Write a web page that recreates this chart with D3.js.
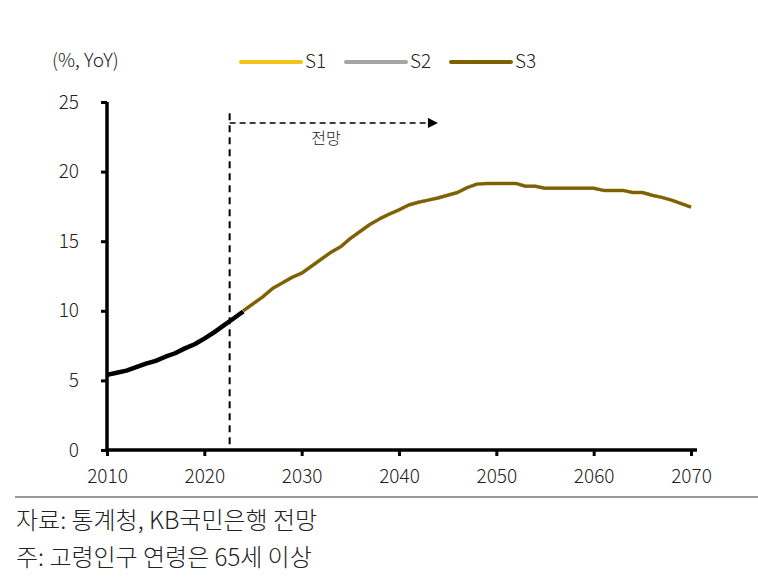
<!DOCTYPE html>
<html>
<head>
<meta charset="utf-8">
<script src="https://cdn.jsdelivr.net/npm/d3@7"></script>
<style>
  body { margin: 0; background: #fff; }
  svg text { font-family: "Noto Sans CJK KR", "Noto Sans", sans-serif; font-weight: 300; fill: #222; }
</style>
</head>
<body>
<div id="container"></div>
<script>
/* DATA */
const histYears = d3.range(2010, 2025);
const histValues = [5.4, 5.55, 5.7, 5.95, 6.2, 6.4, 6.7, 6.95, 7.3, 7.6, 8.0, 8.45, 8.95, 9.45, 9.95];

const projYears = d3.range(2024, 2071);
const s3Values = [10.0, 10.5, 11.0, 11.6, 12.0, 12.4, 12.7, 13.2, 13.7, 14.2,
  14.6, 15.2, 15.7, 16.2, 16.6, 16.95, 17.25, 17.6, 17.8, 17.95,
  18.1, 18.3, 18.5, 18.85, 19.1, 19.15, 19.15, 19.15, 19.15, 18.95,
  18.95, 18.8, 18.8, 18.8, 18.8, 18.8, 18.8, 18.65, 18.65, 18.65,
  18.5, 18.5, 18.3, 18.15, 17.95, 17.7, 17.45];
// the three scenarios sit on top of each other in the picture
const s1Values = s3Values.slice();
const s2Values = s3Values.slice();

const seriesNames = ["S1", "S2", "S3"];
const seriesColors = ["#f2c318", "#a5a5a5", "#7f6000"];

const xTicks = [2010, 2020, 2030, 2040, 2050, 2060, 2070];
const yTicks = [0, 5, 10, 15, 20, 25];

const forecastStart = 2022.6, arrowEnd = 2044, arrowLevel = 23.5, dashTop = 24.2;

/* CONSTANTS */
const width = 758, height = 578;

const svg = d3.select("#container").append("svg")
  .attr("width", width).attr("height", height);

const xScale = d3.scaleLinear().domain([2010, 2070]).range([107, 691]);
const yScale = d3.scaleLinear().domain([0, 25]).range([450, 102]);

// unit label + legend
svg.append("text").attr("x", 52).attr("y", 67)
  .attr("font-size", 19).text("(%, YoY)");

const legendX = [241, 346, 451];
seriesNames.forEach((name, i) => {
  svg.append("line")
    .attr("x1", legendX[i]).attr("x2", legendX[i] + 60)
    .attr("y1", 62).attr("y2", 62)
    .attr("stroke", seriesColors[i]).attr("stroke-width", 4)
    .attr("stroke-linecap", "round");
  svg.append("text").attr("x", legendX[i] + 64).attr("y", 68)
    .attr("font-size", 19).text(name);
});

// axes
const yAxis = d3.axisLeft(yScale).tickValues(yTicks).tickSize(6).tickPadding(22);
const xAxis = d3.axisBottom(xScale).tickValues(xTicks).tickFormat(d3.format("d")).tickSize(6).tickPadding(14);

const gy = svg.append("g").attr("transform", `translate(${xScale(2010)},0)`).call(yAxis);
const gx = svg.append("g").attr("transform", `translate(0,${yScale(0)})`).call(xAxis);

[gx, gy].forEach(g => {
  g.select(".domain").remove();
  g.selectAll(".tick line").attr("stroke", "#000").attr("stroke-width", 3);
  g.selectAll(".tick text").attr("font-size", 19).attr("fill", "#222")
    .style("font-family", '"Noto Sans CJK KR", sans-serif').style("font-weight", 300);
});

svg.append("line")
  .attr("x1", xScale(2010)).attr("x2", xScale(2010))
  .attr("y1", yScale(25)).attr("y2", yScale(0) + 1.5)
  .attr("stroke", "#000").attr("stroke-width", 3.5);
svg.append("line")
  .attr("x1", xScale(2010) - 1.5).attr("x2", xScale(2070) + 6)
  .attr("y1", yScale(0)).attr("y2", yScale(0))
  .attr("stroke", "#000").attr("stroke-width", 3.5);

// forecast marker
svg.append("line")
  .attr("x1", xScale(forecastStart)).attr("x2", xScale(forecastStart))
  .attr("y1", yScale(dashTop)).attr("y2", yScale(0))
  .attr("stroke", "#000").attr("stroke-width", 2).attr("stroke-dasharray", "7,5");

svg.append("defs").append("marker")
  .attr("id", "arrow").attr("viewBox", "0 0 10 10")
  .attr("refX", 10).attr("refY", 5)
  .attr("markerWidth", 11).attr("markerHeight", 10)
  .attr("markerUnits", "userSpaceOnUse")
  .attr("orient", "auto")
  .append("path").attr("d", "M0,0L10,5L0,10Z").attr("fill", "#000");

svg.append("line")
  .attr("x1", xScale(forecastStart)).attr("x2", xScale(arrowEnd))
  .attr("y1", yScale(arrowLevel)).attr("y2", yScale(arrowLevel))
  .attr("stroke", "#000").attr("stroke-width", 1.5).attr("stroke-dasharray", "6,4")
  .attr("marker-end", "url(#arrow)");

svg.append("text")
  .attr("x", xScale(2032.5)).attr("y", yScale(arrowLevel) + 21)
  .attr("text-anchor", "middle").attr("font-size", 16).text("전망");

// lines
const line = d3.line().x(d => xScale(d[0])).y(d => yScale(d[1]));

[s1Values, s2Values, s3Values].forEach((vals, i) => {
  svg.append("path")
    .datum(projYears.map((y, j) => [y, vals[j]]))
    .attr("fill", "none")
    .attr("stroke", seriesColors[i])
    .attr("stroke-width", i === 2 ? 3 : 3.5)
    .attr("stroke-linejoin", "round")
    .attr("d", line);
});

svg.append("path")
  .datum(histYears.map((y, j) => [y, histValues[j]]))
  .attr("fill", "none").attr("stroke", "#000")
  .attr("stroke-width", 4.5).attr("stroke-linejoin", "round")
  .attr("d", line);

// source notes
svg.append("line").attr("x1", 15).attr("x2", width).attr("y1", 497).attr("y2", 497)
  .attr("stroke", "#333").attr("stroke-width", 1);
svg.append("text").attr("x", 16).attr("y", 529).attr("font-size", 24)
  .text("자료: 통계청, KB국민은행 전망");
svg.append("text").attr("x", 16).attr("y", 566).attr("font-size", 24)
  .text("주: 고령인구 연령은 65세 이상");
</script>
</body>
</html>
